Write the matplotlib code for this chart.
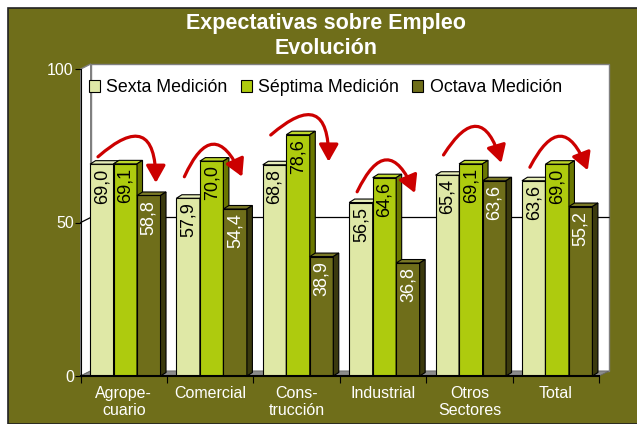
import matplotlib.pyplot as plt
from matplotlib.patches import Rectangle, Polygon, Patch

plt.rcParams['font.family'] = ['Liberation Sans', 'DejaVu Sans']

categories = ['Agrope-\ncuario', 'Comercial', 'Cons-\ntrucción', 'Industrial', 'Otros\nSectores', 'Total']
series_names = ['Sexta Medición', 'Séptima Medición', 'Octava Medición']
sexta = [69.0, 57.9, 68.8, 56.5, 65.4, 63.6]
septima = [69.1, 70.0, 78.6, 64.6, 69.1, 69.0]
octava = [58.8, 54.4, 38.9, 36.8, 63.6, 55.2]
# decorative arrows: start / end heights
arrow_from = [71.4, 64.9, 78.5, 60.0, 72.0, 68.0]
arrow_to = [62.9, 64.9, 69.8, 59.6, 69.4, 67.0]

bg = '#6F6E1A'
front = ['#DFE8A6', '#AECB0E', '#6F6E1A']
tops = ['#E6EDB8', '#BCD62A', '#7A7926']
sides = ['#B9C27E', '#6B7800', '#3B3A0E']
txt_col = ['black', 'black', 'white']

W, H = 637, 424
fig = plt.figure(figsize=(W / 100, H / 100), dpi=100, facecolor='white')
fig.patches.append(Rectangle((8 / W, 0), 1, 1 - 8 / H, transform=fig.transFigure,
                             facecolor=bg, edgecolor='#222222', lw=1.2, zorder=-5))

ax_l, ax_r, ax_b, ax_t = 80.7, 599, 376, 69
ax = fig.add_axes([ax_l / W, (H - ax_b) / H, (ax_r - ax_l) / W, (ax_b - ax_t) / H])
ax.set_facecolor('none')
ax.set_xlim(0, 6)
ax.set_ylim(0, 100)

# pixel -> data unit helpers
px_x = 6 / (ax_r - ax_l)
px_y = 100 / (ax_b - ax_t)
wx, wy = 10 * px_x, 5 * px_y      # wall depth
bx, by = 5.5 * px_x, 3.5 * px_y   # bar depth

# walls and floor
ax.add_patch(Polygon([(wx, wy), (6 + wx, wy), (6 + wx, 100 + wy), (wx, 100 + wy)],
                     facecolor='white', edgecolor='#808080', lw=1, clip_on=False, zorder=1))
ax.add_patch(Polygon([(0, 0), (wx, wy), (wx, 100 + wy), (0, 100)],
                     facecolor='white', edgecolor='#808080', lw=1, clip_on=False, zorder=1))
ax.add_patch(Polygon([(0, 0), (6, 0), (6 + wx, wy), (wx, wy)],
                     facecolor='#8C8C8C', edgecolor='#666666', lw=0.6, clip_on=False, zorder=1))
ax.plot([0, wx, 6 + wx], [50, 50 + wy, 50 + wy], color='black', lw=0.9, clip_on=False, zorder=1.5)

bw = 0.272
data = [sexta, septima, octava]
for i in range(len(categories)):
    for k, vals in enumerate(data):
        h = vals[i]
        x0 = i + 0.108 + k * bw
        z = 2 + k
        ax.add_patch(Rectangle((x0, 0), bw, h, facecolor=front[k], edgecolor='black', lw=0.8, zorder=z))
        ax.add_patch(Polygon([(x0, h), (x0 + bw, h), (x0 + bw + bx, h + by), (x0 + bx, h + by)],
                             facecolor=tops[k], edgecolor='black', lw=0.8, zorder=z, clip_on=False))
        ax.add_patch(Polygon([(x0 + bw, 0), (x0 + bw + bx, by), (x0 + bw + bx, h + by), (x0 + bw, h)],
                             facecolor=sides[k], edgecolor='black', lw=0.8, zorder=z, clip_on=False))
        ax.annotate(f'{h:.1f}'.replace('.', ','), (x0 + bw / 2, h), xytext=(0, -3),
                    textcoords='offset points', rotation=90, ha='center', va='top',
                    fontsize=13, color=txt_col[k], zorder=10)
    ax.annotate('', xy=(i + 0.87, arrow_to[i]), xytext=(i + 0.2, arrow_from[i]),
                arrowprops=dict(arrowstyle='-|>,head_width=0.45,head_length=0.8',
                                connectionstyle='arc3,rad=-1.1', color='#CC0000',
                                lw=2.3, mutation_scale=13, shrinkA=0, shrinkB=0),
                zorder=12, annotation_clip=False)

for s in ['top', 'right']:
    ax.spines[s].set_visible(False)
ax.spines['left'].set_zorder(6)
ax.spines['bottom'].set_zorder(6)
ax.spines['bottom'].set_linewidth(1.5)

ax.set_yticks([0, 50, 100])
ax.tick_params(axis='y', colors='black', labelcolor='white', labelsize=11.5, length=4, pad=1)
ax.set_xticks(range(7))
ax.set_xticklabels([])
ax.set_xticks([i + 0.5 for i in range(6)], minor=True)
ax.set_xticklabels(categories, minor=True, color='white', fontsize=11.5, linespacing=1.15)
ax.tick_params(axis='x', which='major', length=5, color='black')
ax.tick_params(axis='x', which='minor', length=0, pad=7)

handles = [Patch(facecolor=c, edgecolor='black', lw=0.8) for c in front]
fig.legend(handles, series_names, loc='center left', bbox_to_anchor=(89 / W, 1 - 88 / H),
           frameon=False, ncol=3, fontsize=12.8, handlelength=0.62, handleheight=0.62,
           handletextpad=0.35, columnspacing=0.75, borderpad=0, borderaxespad=0)

fig.text(0.512, 1 - 23 / H, 'Expectativas sobre Empleo', ha='center', va='center',
         color='white', fontsize=15.5, fontweight='bold')
fig.text(0.512, 1 - 49 / H, 'Evolución', ha='center', va='center',
         color='white', fontsize=15.5, fontweight='bold')

fig.savefig('out.png', dpi=100, facecolor=fig.get_facecolor())
